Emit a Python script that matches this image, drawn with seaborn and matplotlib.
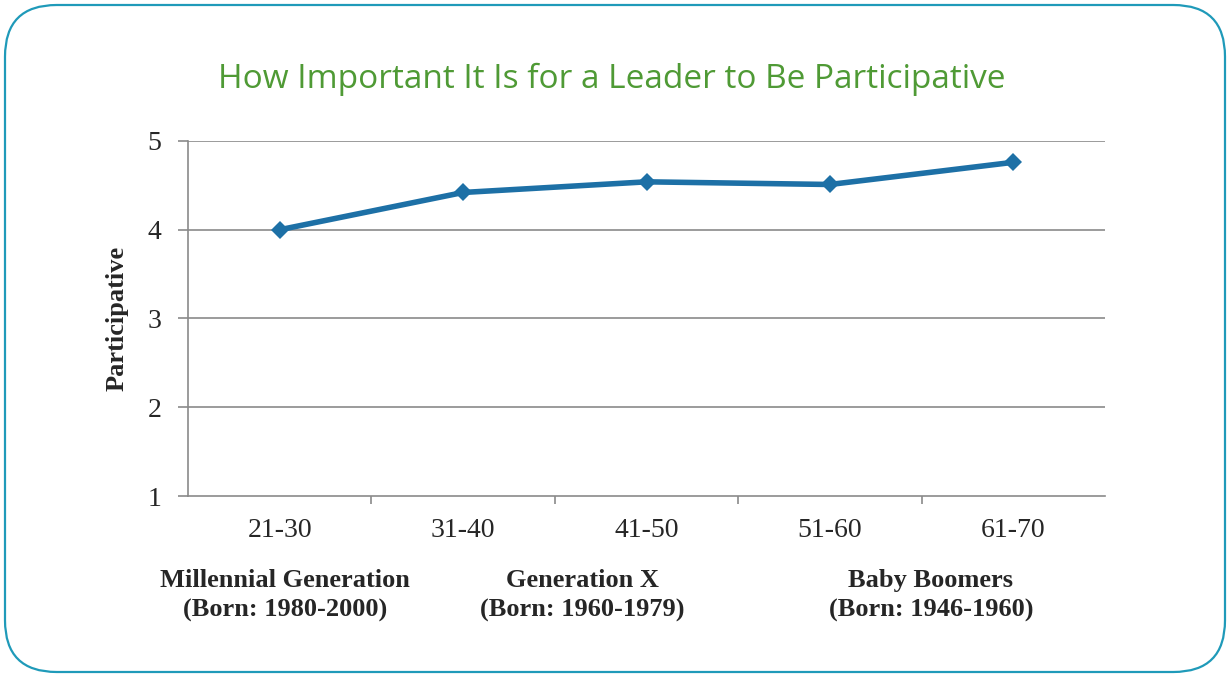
import matplotlib
matplotlib.use("Agg")
import matplotlib.pyplot as plt
import seaborn as sns
import pandas as pd
from matplotlib.patches import FancyBboxPatch

age_groups = ["21-30", "31-40", "41-50", "51-60", "61-70"]
participative = [4.00, 4.42, 4.54, 4.51, 4.76]
y_ticks = [1, 2, 3, 4, 5]
generation_labels = ["Millennial Generation\n(Born: 1980-2000)",
                     "Generation X\n(Born: 1960-1979)",
                     "Baby Boomers\n(Born: 1946-1960)"]
generation_pos = [0.03, 1.65, 3.55]

sns.set_theme(style="white")
plt.rcParams['font.family'] = ['Liberation Serif', 'DejaVu Serif']

df = pd.DataFrame({"age": age_groups, "value": participative})

fig = plt.figure(figsize=(12.3, 6.77), dpi=100)
fig.patch.set_facecolor("white")

border = FancyBboxPatch((5/1230, 5/677), 1220/1230, 667/677,
                        boxstyle="round,pad=0,rounding_size=0.042",
                        transform=fig.transFigure, fill=False,
                        edgecolor="#1f9ab9", linewidth=1.6,
                        mutation_aspect=1230/677)
fig.patches.append(border)

ax = fig.add_axes([188/1230, 1 - 496/677, 917/1230, 355/677])

sns.lineplot(data=df, x="age", y="value", ax=ax, color="#1d70a6",
             linewidth=4, marker="D", markersize=9, markeredgewidth=0,
             sort=False)

ax.set_xlim(-0.5, 4.5)
ax.set_ylim(1, 5)
ax.set_yticks(y_ticks)
ax.set_yticklabels([str(t) for t in y_ticks], fontsize=20)
ax.set_xticks(range(len(age_groups)))
ax.set_xticklabels(age_groups, fontsize=20)
ax.set_xlabel("")
ax.set_ylabel("Participative", fontsize=19, fontweight="bold", labelpad=14)

for t in y_ticks[1:]:
    ax.axhline(t, color="#8a8a8a", linewidth=1.2, zorder=0)

for s in ["top", "right"]:
    ax.spines[s].set_visible(False)
for s in ["left", "bottom"]:
    ax.spines[s].set_color("#8a8a8a")
    ax.spines[s].set_linewidth(1.2)

ax.tick_params(axis="y", length=7, color="#8a8a8a", width=1.2, pad=12, left=True)
ax.tick_params(axis="x", length=0, pad=16, bottom=True)
ax.set_xticks([0.5, 1.5, 2.5, 3.5], minor=True)
ax.tick_params(axis="x", which="minor", length=6, color="#8a8a8a", width=1.2, bottom=True)

for lbl, pos in zip(generation_labels, generation_pos):
    ax.text(pos, -0.205, lbl, transform=ax.get_xaxis_transform(),
            ha="center", va="top", fontsize=19, fontweight="bold",
            linespacing=1.4)

fig.text(0.497, 1 - 79/677, "How Important It Is for a Leader to Be Participative",
         ha="center", va="center", fontsize=24, color="#4f9a35",
         family=["Open Sans", "DejaVu Sans"])

fig.savefig("out.png", dpi=100, facecolor="white")
